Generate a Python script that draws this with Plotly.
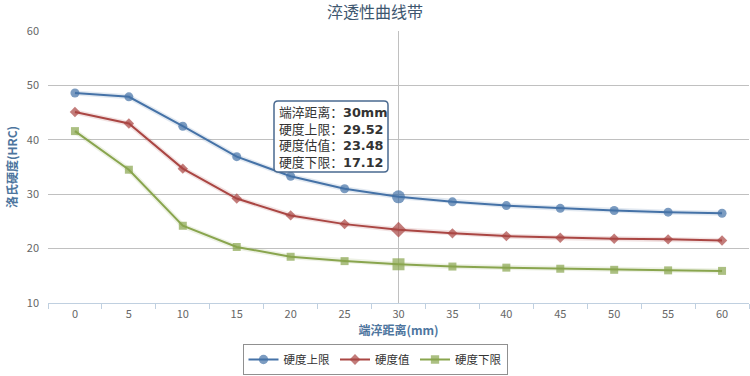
import plotly.graph_objects as go

distance = [0, 5, 10, 15, 20, 25, 30, 35, 40, 45, 50, 55, 60]
upper = [48.6, 47.9, 42.5, 36.9, 33.3, 31.0, 29.52, 28.6, 27.9, 27.4, 27.0, 26.7, 26.5]
estimate = [45.1, 43.0, 34.7, 29.2, 26.1, 24.5, 23.48, 22.8, 22.3, 22.0, 21.8, 21.7, 21.5]
lower = [41.6, 34.5, 24.2, 20.3, 18.5, 17.7, 17.12, 16.7, 16.5, 16.3, 16.1, 16.0, 15.9]
series_names = ["硬度上限", "硬度值", "硬度下限"]
tooltip_labels = ["端淬距离", "硬度上限", "硬度估值", "硬度下限"]
hover_index = 6

colors = ["#4572A7", "#AA4643", "#89A54E"]
symbols = ["circle", "diamond", "square"]
base_sizes = [9, 8, 8]
FONT = "Noto Sans CJK SC, sans-serif"

fig = go.Figure()
for vals, name, c, sym, bs in zip([upper, estimate, lower], series_names, colors, symbols, base_sizes):
    fig.add_trace(go.Scatter(x=distance, y=vals, mode="lines", line=dict(color=c, width=5),
                             opacity=0.15, showlegend=False, hoverinfo="skip"))
    sizes = [bs] * len(vals)
    sizes[hover_index] = bs + 4
    fig.add_trace(go.Scatter(x=distance, y=vals, mode="lines+markers", name=name,
                             line=dict(color=c, width=2),
                             marker=dict(symbol=sym, size=sizes, color=c, line=dict(width=0))))

hx = distance[hover_index]
fig.add_shape(type="line", xref="x", yref="paper", x0=hx, x1=hx, y0=0, y1=1,
              line=dict(color="#C0C0C0", width=1), layer="below")

W, H = 750, 376
L, T, R, B = 48, 31, 749, 303
pw, ph = R - L, B - T
def px(x):
    return (x - L) / pw
def py(y):
    return (B - y) / ph
bx0, bx1, by0, by1, r = 274, 388, 101, 172, 4
path = (f"M {px(bx0+r)},{py(by0)} L {px(bx1-r)},{py(by0)} "
        f"Q {px(bx1)},{py(by0)} {px(bx1)},{py(by0+r)} L {px(bx1)},{py(by1-r)} "
        f"Q {px(bx1)},{py(by1)} {px(bx1-r)},{py(by1)} L {px(bx0+r)},{py(by1)} "
        f"Q {px(bx0)},{py(by1)} {px(bx0)},{py(by1-r)} L {px(bx0)},{py(by0+r)} "
        f"Q {px(bx0)},{py(by0)} {px(bx0+r)},{py(by0)} Z")
fig.add_shape(type="path", xref="paper", yref="paper", path=path,
              fillcolor="rgba(255,255,255,0.95)", line=dict(color="#4A6A90", width=1.5), layer="above")

def val(s):
    return f"<span style='font-family:DejaVu Sans'><b>{s}</b></span>"

tip = (f"{tooltip_labels[0]}：{val(str(hx) + 'mm')}<br>"
       f"{tooltip_labels[1]}：{val(f'{upper[hover_index]:.2f}')}<br>"
       f"{tooltip_labels[2]}：{val(f'{estimate[hover_index]:.2f}')}<br>"
       f"{tooltip_labels[3]}：{val(f'{lower[hover_index]:.2f}')}")
fig.add_annotation(xref="paper", yref="paper", x=px(277), y=py(100), xanchor="left", yanchor="top",
                   text=tip, showarrow=False, align="left",
                   font=dict(family=FONT, size=12.8, color="#333333"))

fig.update_layout(
    width=W, height=H,
    margin=dict(l=L, r=W - R, t=T, b=H - B, autoexpand=False),
    paper_bgcolor="white", plot_bgcolor="white",
    font=dict(family=FONT, color="#666666"),
    title=dict(text="淬透性曲线带", x=(375 - L) / pw, xref="paper", xanchor="center",
               y=1 - 12 / H, yanchor="middle",
               font=dict(family=FONT, size=16, color="#3E576F")),
    showlegend=True,
    legend=dict(orientation="h", x=(375 - L) / pw, xanchor="center", y=-(375 - B) / ph, yanchor="bottom",
                bordercolor="#909090", borderwidth=1, bgcolor="white",
                font=dict(family=FONT, size=11.5, color="#333333"), tracegroupgap=0),
    hovermode=False,
)
fig.update_xaxes(
    range=[-2.5, 62.5], tickvals=distance, ticktext=[str(d) for d in distance],
    ticks="", showgrid=False, zeroline=False, automargin=False,
    showline=True, linecolor="#C0D0E0", linewidth=1,
    tickfont=dict(family=FONT, size=11, color="#666666"),
    minor=dict(tick0=-2.5, dtick=5, ticks="outside", ticklen=5, tickcolor="#C0D0E0", showgrid=False),
    ticklabelstandoff=1,
    title=dict(text="<b>端淬距离(mm)</b>", font=dict(family=FONT, size=12, color="#4d759e"), standoff=2),
)
fig.update_yaxes(
    range=[10, 60], tickvals=[10, 20, 30, 40, 50, 60], showgrid=True, gridcolor="#C0C0C0", gridwidth=1,
    zeroline=False, showline=False, ticks="", automargin=False,
    tickfont=dict(family=FONT, size=11, color="#666666"), ticklabelstandoff=8,
    title=dict(text="<b>洛氏硬度(HRC)</b>", font=dict(family=FONT, size=12, color="#4d759e"), standoff=6),
)

fig.write_html("out.html", config={"displayModeBar": False},
               post_script="document.body.style.margin='0';")
